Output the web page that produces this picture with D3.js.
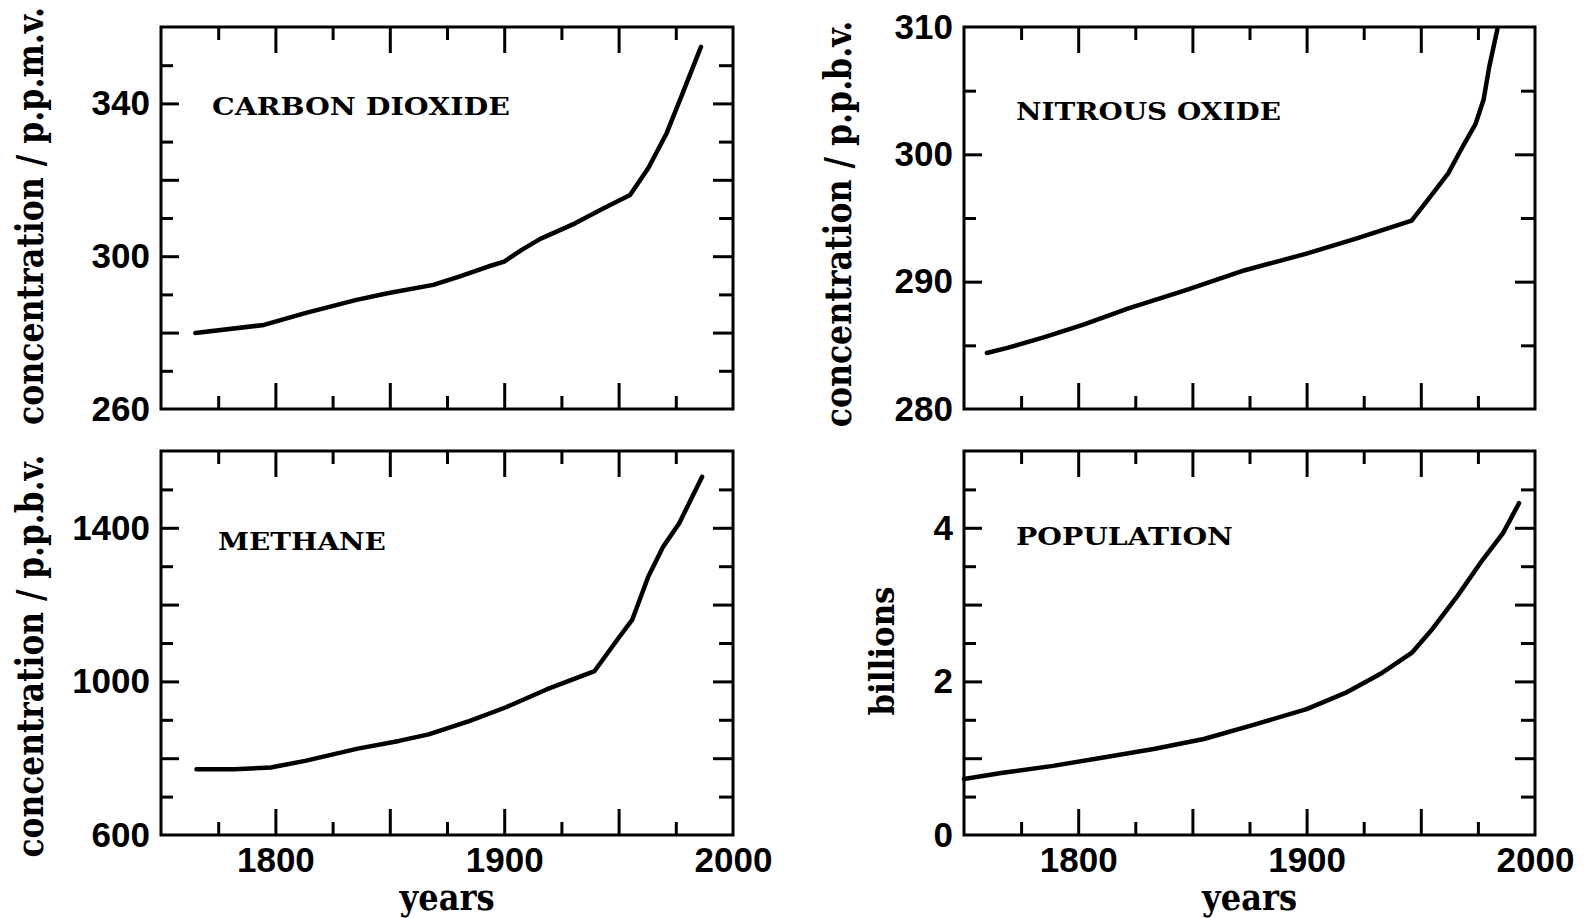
<!DOCTYPE html>
<html>
<head>
<meta charset="utf-8">
<script src="https://cdn.jsdelivr.net/npm/d3@7"></script>
<style>
  body { margin: 0; background: #fff; }
  svg { display: block; }
  .tick text { font-family: "Liberation Sans", Arial, sans-serif; font-weight: bold; font-size: 35px; fill: #000; }
  .tick line { stroke: #000; stroke-width: 3; }
  .label { font-family: "DejaVu Serif", serif; font-weight: bold; fill: #000; }
</style>
</head>
<body>
<svg id="chart"></svg>
<script>
// values
const co2Years = [1765, 1795, 1813, 1835, 1849, 1869, 1880, 1893, 1900, 1908, 1916, 1931, 1942, 1955, 1963, 1971, 1978, 1986];
const co2Values = [279.9, 282.0, 285.1, 288.5, 290.3, 292.5, 294.6, 297.3, 298.6, 301.8, 304.6, 308.6, 312.1, 316.0, 323.1, 332.2, 342.7, 354.8];

const n2oYears = [1760, 1769, 1784.5, 1802, 1822, 1846.5, 1873, 1900, 1922, 1946, 1953, 1962, 1968, 1974, 1977.5, 1980, 1983.5];
const n2oValues = [284.4, 284.8, 285.6, 286.6, 287.9, 289.3, 290.9, 292.2, 293.4, 294.8, 296.4, 298.5, 300.5, 302.4, 304.3, 306.9, 309.8];

const ch4Years = [1765.5, 1782, 1798, 1813, 1836, 1854, 1867, 1885, 1900.5, 1918.5, 1939.5, 1949.5, 1956, 1963, 1969.5, 1976.5, 1986.5];
const ch4Values = [771, 771, 776, 793, 825, 845, 862, 897, 932, 979, 1027, 1109, 1161, 1273, 1351, 1412, 1533];

const popYears = [1750, 1767, 1789, 1811, 1833, 1855, 1877.5, 1900, 1917, 1933, 1946, 1955, 1966, 1977, 1986, 1993];
const popValues = [0.73, 0.81, 0.90, 1.01, 1.12, 1.25, 1.44, 1.64, 1.85, 2.11, 2.37, 2.68, 3.11, 3.58, 3.93, 4.32];

// axes
const yearDomain = [1750, 2000];
const yearMajor = [1800, 1850, 1900, 1950];
const yearMinor = [1775, 1825, 1875, 1925, 1975];
const yearLabels = [1800, 1900, 2000];

const co2Domain = [260, 360], co2Major = [280, 300, 320, 340], co2Minor = [270, 290, 310, 330, 350], co2Labels = [260, 300, 340];
const n2oDomain = [280, 310], n2oMajor = [290, 300], n2oMinor = [285, 295, 305], n2oLabels = [280, 290, 300, 310];
const ch4Domain = [600, 1600], ch4Major = [800, 1000, 1200, 1400], ch4Minor = [700, 900, 1100, 1300, 1500], ch4Labels = [600, 1000, 1400];
const popDomain = [0, 5], popMajor = [1, 2, 3, 4], popMinor = [0.5, 1.5, 2.5, 3.5, 4.5], popLabels = [0, 2, 4];

const titles = ["CARBON DIOXIDE", "NITROUS OXIDE", "METHANE", "POPULATION"];
const yTitles = ["concentration / p.p.m.v.", "concentration / p.p.b.v.", "concentration / p.p.b.v.", "billions"];

document.addEventListener('DOMContentLoaded', function() {
    const svg = d3.select("#chart").attr("width", 1593).attr("height", 918);
    svg.append("rect").attr("width", 1593).attr("height", 918).attr("fill", "#fff");

    const panels = [
        { years: co2Years, values: co2Values, domain: co2Domain, major: co2Major, minor: co2Minor, labels: co2Labels,
          left: 161, right: 733, top: 27, bottom: 409, xLabels: false,
          title: titles[0], tx: 212, ty: 115, tlen: 298, tsize: 23.5,
          yTitle: yTitles[0], yx: 43, yy: 216, ylen: 418, ysize: 38 },
        { years: n2oYears, values: n2oValues, domain: n2oDomain, major: n2oMajor, minor: n2oMinor, labels: n2oLabels,
          left: 964, right: 1535, top: 27, bottom: 409, xLabels: false,
          title: titles[1], tx: 1016, ty: 120, tlen: 265, tsize: 24.5,
          yTitle: yTitles[1], yx: 851, yy: 224, ylen: 407, ysize: 38 },
        { years: ch4Years, values: ch4Values, domain: ch4Domain, major: ch4Major, minor: ch4Minor, labels: ch4Labels,
          left: 161, right: 733, top: 451, bottom: 835, xLabels: true,
          title: titles[2], tx: 218, ty: 550, tlen: 168, tsize: 24.5,
          yTitle: yTitles[2], yx: 43, yy: 656, ylen: 403, ysize: 38 },
        { years: popYears, values: popValues, domain: popDomain, major: popMajor, minor: popMinor, labels: popLabels,
          left: 964, right: 1535, top: 451, bottom: 835, xLabels: true,
          title: titles[3], tx: 1016, ty: 545, tlen: 217, tsize: 24.5,
          yTitle: yTitles[3], yx: 894, yy: 651, ylen: 129, ysize: 33 }
    ];

    // squeeze a text along its reading direction so it spans len pixels
    function fitText(sel, x, y, len, angle) {
        const natural = sel.node().getComputedTextLength();
        sel.attr("transform", `translate(${x},${y}) rotate(${angle}) scale(${len / natural},1)`);
    }

    panels.forEach(p => {
        const x = d3.scaleLinear().domain(yearDomain).range([p.left, p.right]);
        const y = d3.scaleLinear().domain(p.domain).range([p.bottom, p.top]);
        const g = svg.append("g");

        // inward ticks on all four sides, long for major, short for minor
        const tickSets = [
            [d3.axisBottom(x), `translate(0,${p.bottom})`, yearMajor, -26, yearMinor, -13],
            [d3.axisTop(x), `translate(0,${p.top})`, yearMajor, -26, yearMinor, -13],
            [d3.axisLeft(y), `translate(${p.left},0)`, p.major, -18, p.minor, -12],
            [d3.axisRight(y), `translate(${p.right},0)`, p.major, -20, p.minor, -14]
        ];
        tickSets.forEach(([axis, tr, maj, majLen, min, minLen]) => {
            g.append("g").attr("transform", tr)
                .call(axis.tickValues(maj).tickSize(majLen).tickFormat(""))
                .call(a => a.select(".domain").remove());
            g.append("g").attr("transform", tr)
                .call(axis.tickValues(min).tickSize(minLen).tickFormat(""))
                .call(a => a.select(".domain").remove());
        });

        // tick labels
        g.append("g").attr("transform", `translate(${p.left},0)`)
            .call(d3.axisLeft(y).tickValues(p.labels).tickSize(0).tickPadding(11).tickFormat(d3.format("d")))
            .call(a => a.select(".domain").remove());
        if (p.xLabels) {
            g.append("g").attr("transform", `translate(0,${p.bottom})`)
                .call(d3.axisBottom(x).tickValues(yearLabels).tickSize(0).tickPadding(12).tickFormat(d3.format("d")))
                .call(a => a.select(".domain").remove());
            const yl = g.append("text").attr("class", "label")
                .attr("text-anchor", "middle")
                .attr("font-size", 35)
                .text("years");
            fitText(yl, (p.left + p.right) / 2, 910, 95, 0);
        }

        // frame
        g.append("rect")
            .attr("x", p.left).attr("y", p.top)
            .attr("width", p.right - p.left).attr("height", p.bottom - p.top)
            .attr("fill", "none").attr("stroke", "#000").attr("stroke-width", 3);

        // series line
        const pts = p.years.map((yr, i) => [yr, p.values[i]]);
        g.append("path")
            .datum(pts)
            .attr("fill", "none")
            .attr("stroke", "#000")
            .attr("stroke-width", 4.5)
            .attr("stroke-linejoin", "round")
            .attr("stroke-linecap", "round")
            .attr("d", d3.line().x(d => x(d[0])).y(d => y(d[1])));

        // panel title
        const t = g.append("text").attr("class", "label")
            .attr("font-size", p.tsize)
            .text(p.title);
        fitText(t, p.tx, p.ty, p.tlen, 0);

        // y axis title
        const yt = g.append("text").attr("class", "label")
            .attr("text-anchor", "middle")
            .attr("font-size", p.ysize)
            .text(p.yTitle);
        fitText(yt, p.yx, p.yy, p.ylen, -90);
    });
});
</script>
</body>
</html>
